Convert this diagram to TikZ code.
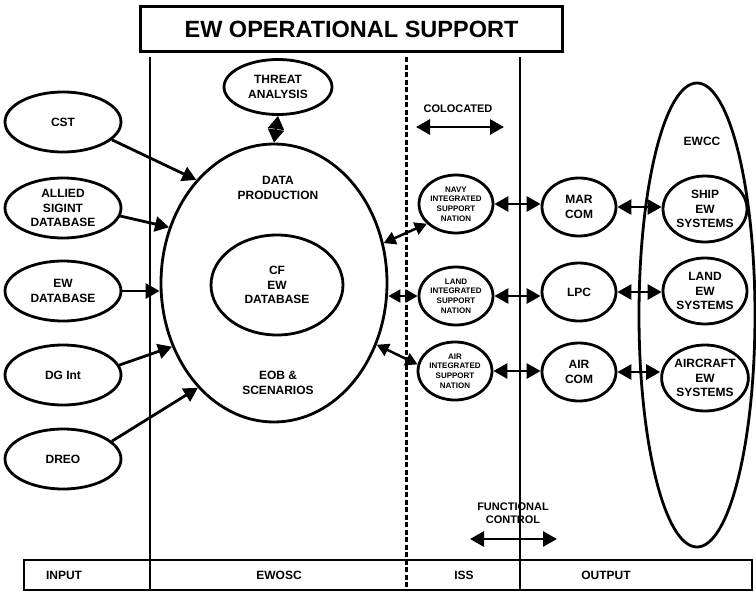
\documentclass[tikz,border=0pt]{standalone}
\usepackage{fontspec}
\setmainfont{Liberation Sans}
\usetikzlibrary{shapes.geometric,arrows.meta}

\begin{document}
\begin{tikzpicture}[x=1pt,y=-1pt,
  line width=2.8pt,
  lbl/.style={font=\bfseries\fontsize{12}{14.5}\selectfont, align=center, inner sep=0pt},
  oval/.style={ellipse, draw, line width=2.8pt, inner sep=0pt, align=center,
    font=\bfseries\fontsize{12}{14.5}\selectfont},
  inoval/.style={oval, minimum width=116pt, minimum height=60pt},
  issoval/.style={oval, minimum width=74pt, minimum height=58pt,
    font=\bfseries\fontsize{8}{9.8}\selectfont},
  outoval/.style={oval, minimum width=74pt, minimum height=58pt},
  sysoval/.style={oval, minimum width=84pt, minimum height=66pt},
  tipA/.tip={Triangle[length=14pt,width=15pt]},
  tipB/.tip={Triangle[length=12pt,width=13pt]},
  tipD/.tip={Triangle[length=13.2pt,width=16pt]},
  feed/.style={-tipA, line width=2.8pt},
  link/.style={tipA-tipA, line width=2.8pt},
  slink/.style={tipB-tipB, line width=2.5pt},
  divider/.style={line width=2.8pt},
]
\useasboundingbox (0,0) rectangle (756,592);

% title banner
\node[draw, line width=2.8pt, minimum width=422pt, minimum height=45pt, inner sep=0pt,
      font=\bfseries\fontsize{23.5}{26}\selectfont] (title) at (351.5,29) {EW OPERATIONAL SUPPORT};

% column dividers
\draw[divider] (150,57) -- (150,590);
\draw[divider, dash pattern=on 5pt off 2.5pt] (406.5,57) -- (406.5,590);
\draw[divider] (520,57) -- (520,590);

% bottom legend bar
\draw[line width=2.8pt] (24,560) rectangle (752,590);
\node[lbl] (lin)  at (64,575)  {INPUT};
\node[lbl] (lew)  at (279,575) {EWOSC};
\node[lbl] (liss) at (464,575) {ISS};
\node[lbl] (lout) at (606,575) {OUTPUT};

% input sources
\node[inoval] (cst)    at (63,122) {CST};
\node[inoval] (allied) at (63,208) {ALLIED\\SIGINT\\DATABASE};
\node[inoval] (ewdb)   at (63,291) {EW\\DATABASE};
\node[inoval] (dgint)  at (63,375) {DG Int};
\node[inoval] (dreo)   at (63,459) {DREO};

% EWOSC
\node[oval, minimum width=108pt, minimum height=55pt] (threat) at (278,87) {THREAT\\ANALYSIS};
\node[ellipse, draw, line width=2.8pt, minimum width=226pt, minimum height=278pt, inner sep=0pt] (big) at (274,283) {};
\node[oval, minimum width=132pt, minimum height=100pt] (cfdb) at (277,285) {CF\\EW\\DATABASE};
\node[lbl] (dataprod) at (278,188) {DATA\\PRODUCTION};
\node[lbl] (eob) at (278,383) {EOB \&\\SCENARIOS};

\draw[tipD-tipD, line width=2pt] (threat.south) -- (big.north);

\draw[feed] (cst.-20)    -- (big.127);
\draw[feed] (allied.-8)  -- (big.152);
\draw[feed] (ewdb.east)  -- (ewdb.east -| big.west);
\draw[feed] (dgint.10)   -- (big.212);
\draw[feed] (dreo.20)    -- (big.234);

% ISS
\node[lbl, font=\bfseries\fontsize{11}{13}\selectfont] (coloc) at (458,109) {COLOCATED};
\coordinate (colL) at (416,127);
\coordinate (colR) at (504,127);
\draw[link] (colL) -- (colR);

\node[issoval] (navy) at (456,204) {NAVY\\INTEGRATED\\SUPPORT\\NATION};
\node[issoval] (land) at (456,296) {LAND\\INTEGRATED\\SUPPORT\\NATION};
\node[issoval] (air)  at (455,371) {AIR\\INTEGRATED\\SUPPORT\\NATION};

\draw[slink] (big.20) -- (navy.214);
\draw[slink] (land.west -| big.east) -- (land.west);
\draw[slink] (big.-31) -- (air.170);

% OUTPUT
\node[ellipse, draw, line width=2.8pt, minimum width=116pt, minimum height=464pt, inner sep=0pt] (ewcc) at (697,315) {};
\node[lbl] (ewcclbl) at (702,141) {EWCC};

\node[outoval] (marcom) at (579,207) {MAR\\COM};
\node[outoval] (lpc)    at (579,292) {LPC};
\node[outoval] (aircom) at (579,372) {AIR\\COM};

\node[sysoval] (ship)     at (705,209) {SHIP\\EW\\SYSTEMS};
\node[sysoval] (landsys)  at (705,291) {LAND\\EW\\SYSTEMS};
\node[sysoval] (aircraft) at (705,378) {AIRCRAFT\\EW\\SYSTEMS};

\draw[link] (navy.east) -- (navy.east -| marcom.west);
\draw[link] (land.east) -- (land.east -| lpc.west);
\draw[link] (air.east)  -- (air.east -| aircom.west);

\draw[link] (marcom.east) -- (marcom.east -| ship.west);
\draw[link] (lpc.east)    -- (lpc.east -| landsys.west);
\draw[link] (aircom.east) -- (aircom.east -| aircraft.west);

% functional control
\node[lbl, font=\bfseries\fontsize{11}{13}\selectfont] (func) at (513,513) {FUNCTIONAL\\CONTROL};
\coordinate (fcL) at (470,539);
\coordinate (fcR) at (557,539);
\draw[link] (fcL) -- (fcR);

\end{tikzpicture}
\end{document}
